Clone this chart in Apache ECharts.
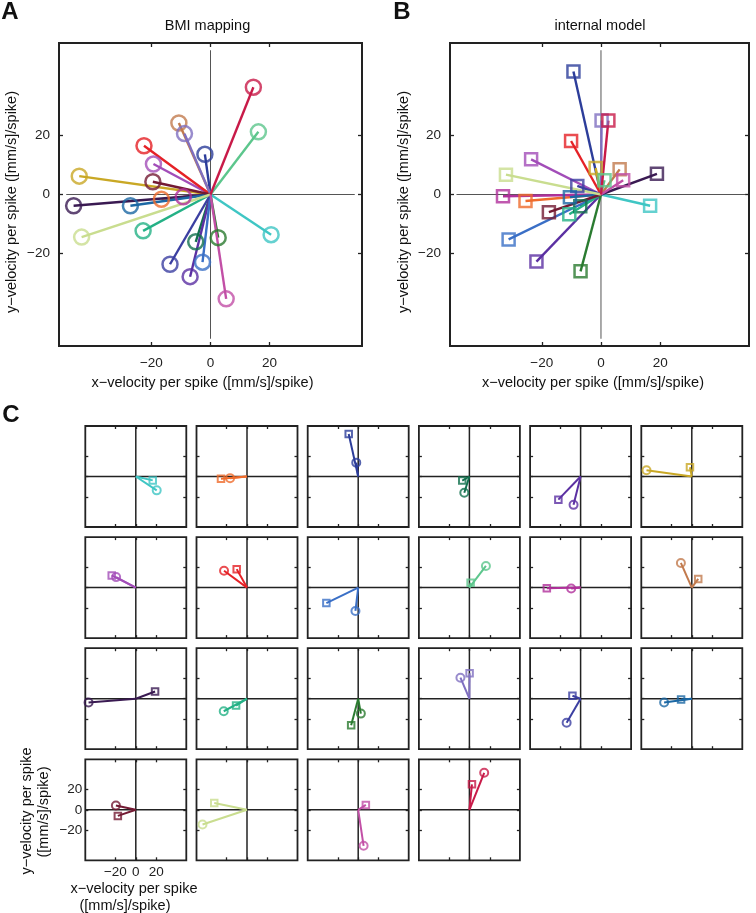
<!DOCTYPE html>
<html><head><meta charset="utf-8">
<script src="https://cdn.jsdelivr.net/npm/echarts@6/dist/echarts.min.js"></script>
<style>html,body{margin:0;padding:0;background:#fff}#c{width:756px;height:913px}</style>
</head><body><div id="c"></div>
<script>
// 22 units, in the order of the small multiples in panel C
const unitColors = ['#3fc6c4','#ef6c2c','#2c3d9a','#12704e','#5b30a2','#c9a825','#a24db8','#e52126','#3a6fc6','#5cc68c','#b0309b','#c27a4d','#3a1a52','#24b186','#2a7b30','#7f6fc0','#3b3fa1','#1c68a4','#731a33','#c9dd8f','#c24fa6','#c81a48'];
// BMI mapping (circles, panel A)
const bmiX = [20.5,-16.6,-1.9,-5.0,-6.9,-44.4,-19.3,-22.5,-2.7,16.2,-9.2,-10.7,-46.3,-22.8,2.6,-8.8,-13.7,-27.1,-19.5,-43.6,5.3,14.5];
const bmiY = [-13.6,-1.6,13.6,-16.0,-27.8,6.2,10.3,16.5,-22.9,21.2,-0.8,24.2,-3.8,-12.3,-14.6,20.6,-23.6,-3.8,4.3,-14.4,-35.3,36.3];
// internal model (squares, panel B)
const imX = [16.6,-25.5,-9.3,-7.0,-21.8,-1.8,-23.6,-10.1,-31.2,1.2,-33.1,6.3,18.9,-10.7,-6.9,0.2,-8.0,-10.5,-17.6,-32.1,7.5,2.5];
const imY = [-3.8,-2.2,41.6,-4.0,-22.7,9.0,11.9,18.1,-15.2,4.8,-0.6,8.5,7.0,-6.7,-26.0,25.0,2.9,-0.9,-6.0,6.7,4.8,25.0];
const tickValues = [-20, 0, 20];
const titleA = 'BMI mapping';
const titleB = 'internal model';
const xTitle = 'x\u2212velocity per spike ([mm/s]/spike)';
const yTitle = 'y\u2212velocity per spike ([mm/s]/spike)';
const xTitleC = ['x\u2212velocity per spike', '([mm/s]/spike)'];
const yTitleC = ['y\u2212velocity per spike', '([mm/s]/spike)'];

const FONT = '"Liberation Sans", Arial, Helvetica, sans-serif';
const AX = '#222';
const grids = [], xAxes = [], yAxes = [], series = [];

function fmt(v){ return String(v).replace('-', '\u2212'); }

function addPanel(rect, xr, yr, o) {
  const gi = grids.length;
  grids.push({left:rect[0], top:rect[1], width:rect[2], height:rect[3], show:true,
    borderColor:AX, borderWidth:o.border, backgroundColor:'rgba(0,0,0,0)'});
  const tick = {show:true, inside:true, length:o.tickLen, customValues:tickValues, lineStyle:{color:AX, width:1.3}};
  const lab = (show, margin) => ({show, customValues:tickValues, margin, fontSize:o.labelSize,
    color:'#222', fontFamily:FONT, formatter:fmt});
  const line = {show:false, onZero:false};
  const xi = xAxes.length, yi = yAxes.length;
  xAxes.push({type:'value', gridIndex:gi, position:'bottom', min:xr[0], max:xr[1],
    axisLine:line, splitLine:{show:false}, axisTick:tick, axisLabel:lab(o.labels, o.xMargin)});
  xAxes.push({type:'value', gridIndex:gi, position:'top', min:xr[0], max:xr[1],
    axisLine:line, splitLine:{show:false}, axisTick:tick, axisLabel:{show:false}});
  yAxes.push({type:'value', gridIndex:gi, position:'left', min:yr[0], max:yr[1],
    axisLine:line, splitLine:{show:false}, axisTick:tick, axisLabel:lab(o.labels, o.yMargin)});
  yAxes.push({type:'value', gridIndex:gi, position:'right', min:yr[0], max:yr[1],
    axisLine:line, splitLine:{show:false}, axisTick:tick, axisLabel:{show:false}});
  // zero reference lines
  const z = o.zeroExt;
  [[[-z,0],[z,0]], [[0,-z],[0,z]]].forEach(d => series.push({type:'line', xAxisIndex:xi, yAxisIndex:yi,
    data:d, symbol:'none', silent:true, lineStyle:{color:o.zeroColor, width:o.zeroWidth}, z:1}));
  return {xi, yi};
}

function addVector(ax, x, y, color, lw, z) {
  series.push({type:'line', xAxisIndex:ax.xi, yAxisIndex:ax.yi, data:[[0,0],[x,y]],
    symbol:'none', silent:true, lineStyle:{color, width:lw}, z});
}
function addMarker(ax, x, y, color, shape, size, bw, z) {
  series.push({type:'scatter', xAxisIndex:ax.xi, yAxisIndex:ax.yi, data:[[x,y]], symbol:shape,
    symbolSize:size, silent:true, itemStyle:{color:'rgba(0,0,0,0)', borderColor:color, borderWidth:bw}, z});
}

// Panel A
const axA = addPanel([59,43,303,303], [-51.25,51.25], [-51.25,51.25],
  {border:2, tickLen:4, labelSize:13.5, labels:true, xMargin:10, yMargin:9, zeroExt:48.8, zeroColor:'#555', zeroWidth:1});
for (let i = 0; i < unitColors.length; i++) {
  addVector(axA, bmiX[i], bmiY[i], unitColors[i], 2.4, 2);
  addMarker(axA, bmiX[i], bmiY[i], unitColors[i], 'circle', 15, 2.5, 3);
}
// Panel B
const axB = addPanel([450,43,299,303], [-51,50], [-51.25,51.25],
  {border:2, tickLen:4, labelSize:13.5, labels:true, xMargin:10, yMargin:9, zeroExt:48.8, zeroColor:'#555', zeroWidth:1});
for (let i = 0; i < unitColors.length; i++) {
  addVector(axB, imX[i], imY[i], unitColors[i], 2.4, 2);
  addMarker(axB, imX[i], imY[i], unitColors[i], 'rect', 12, 2.5, 3);
}
// Panel C small multiples
const nCols = 6;
for (let i = 0; i < unitColors.length; i++) {
  const col = i % nCols, row = Math.floor(i / nCols);
  const first = (row === 3 && col === 0);
  const ax = addPanel([85.3 + 111.2*col, 426 + 111.1*row, 101, 101], [-49.5,49.5], [-49.5,49.5],
    {border:1.8, tickLen:3, labelSize:13.5, labels:first, xMargin:5, yMargin:3, zeroExt:49.5, zeroColor:'#222', zeroWidth:1.5});
  addVector(ax, bmiX[i], bmiY[i], unitColors[i], 2, 2);
  addVector(ax, imX[i], imY[i], unitColors[i], 2, 2);
  addMarker(ax, bmiX[i], bmiY[i], unitColors[i], 'circle', 8, 2, 3);
  addMarker(ax, imX[i], imY[i], unitColors[i], 'rect', 6.5, 2, 3);
}

function txt(text, x, y, size, opt) {
  opt = opt || {};
  return {type:'text', x, y, rotation: opt.rot || 0, silent:true,
    style:{text, fill:'#111', font:(opt.bold ? 'bold ' : '') + size + 'px ' + FONT,
      align:'center', verticalAlign:'middle'}};
}
const graphics = [
  txt('A', 10, 12, 24, {bold:true}),
  txt('B', 402, 12, 24, {bold:true}),
  txt('C', 11, 415, 24, {bold:true}),
  txt(titleA, 207.5, 25.5, 14.5),
  txt(titleB, 600, 25.5, 14.5),
  txt(xTitle, 202.5, 383, 14.5),
  txt(xTitle, 593, 383, 14.5),
  txt(yTitle, 12, 202, 14.5, {rot:Math.PI/2}),
  txt(yTitle, 404, 202, 14.5, {rot:Math.PI/2}),
  txt(xTitleC[0], 134, 888.5, 14.5),
  txt(xTitleC[1], 125, 905.5, 14.5),
  txt(yTitleC[0], 27, 811, 14.5, {rot:Math.PI/2}),
  txt(yTitleC[1], 44, 812, 14.5, {rot:Math.PI/2})
];

const chart = echarts.init(document.getElementById('c'), null, {renderer:'canvas'});
chart.setOption({
  animation:false,
  backgroundColor:'#fff',
  grid:grids, xAxis:xAxes, yAxis:yAxes, series,
  graphic:graphics
});
</script>
</body></html>
